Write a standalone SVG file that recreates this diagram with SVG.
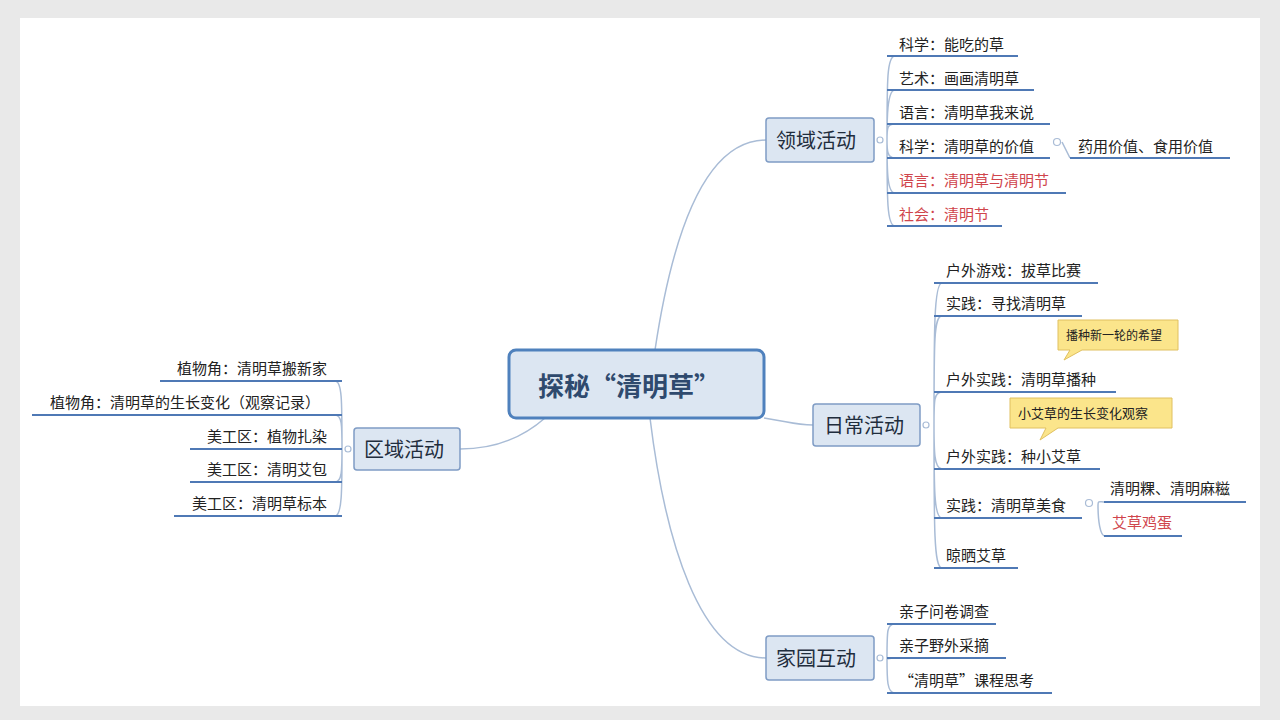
<svg xmlns="http://www.w3.org/2000/svg" width="1280" height="720" viewBox="0 0 1280 720">
<style>
text{font-family:"Noto Sans CJK SC","Noto Sans",sans-serif;fill:#222}
.leaf{font-size:15px}
.red{fill:#d0454c}
.ul{stroke:#4f79b5;stroke-width:2;fill:none}
.con{stroke:#a9bcd6;stroke-width:1.5;fill:none}
.topic{fill:#dce6f2;stroke:#7f9cc5;stroke-width:1.5}
.tt{font-size:20px;fill:#1f2d3d}
.call{fill:#fbe58b;stroke:#e0c060;stroke-width:1}
.dot{fill:#fff;stroke:#a9bcd6;stroke-width:1.2}
</style>
<rect x="0" y="0" width="1280" height="720" fill="#e9e9e9"/>
<rect x="20" y="18" width="1240" height="688" fill="#fff"/>
<g id="connectors">
<path class="con" d="M655 350 C670 250,700 140,766 140"/>
<path class="con" d="M650 418 C665 540,700 658,766 658"/>
<path class="con" d="M764 418 C790 422,795 425,813 425"/>
<path class="con" d="M545 418 C520 440,490 449,460 449"/>
<path class="con" d="M887 140 C887 80,887 56,895 56 M887 140 C887 120,887 90,895 90 M887 140 C887 128,887 124,895 124 M887 140 C887 150,887 158,895 158 M887 140 C887 170,887 193,895 193 M887 140 C887 200,887 226,895 226"/>
<path class="con" d="M934 425 C934 330,934 283,942 283 M934 425 C934 340,934 316,942 316 M934 425 C934 400,934 392,942 392 M934 425 C934 450,934 469,942 469 M934 425 C934 490,934 518,942 518 M934 425 C934 530,934 568,942 568"/>
<path class="con" d="M887 658 C887 630,887 624,895 624 M887 658 C887 660,887 658,895 658 M887 658 C887 680,887 693,895 693"/>
<path class="con" d="M342 449 C342 400,342 381,335 381 M342 449 C342 425,342 415,335 415 M342 449 C342 449,342 449,335 449 M342 449 C342 470,342 482,335 482 M342 449 C342 490,342 516,335 516"/>
<path class="con" d="M1062 142 L1070 158"/>
<path class="con" d="M1098 505 C1098 500,1100 502,1105 502 M1098 505 C1098 520,1100 536,1105 536"/>
</g>
<g id="center"><rect x="509" y="350" width="255" height="68" rx="7" fill="#dce6f2" stroke="#4f81bd" stroke-width="3"/><text x="538" y="396" font-size="26" font-weight="bold" style="fill:#2f4a6e">探秘“清明草”</text></g>
<g id="n-lingyu"><rect class="topic" x="766" y="118" width="108" height="44" rx="3"/><text class="tt" x="776" y="148">领域活动</text><circle class="dot" cx="880" cy="140" r="3"/></g>
<g id="n-richang"><rect class="topic" x="813" y="404" width="107" height="42" rx="3"/><text class="tt" x="824" y="433">日常活动</text><circle class="dot" cx="926" cy="425" r="3"/></g>
<g id="n-jiayuan"><rect class="topic" x="766" y="636" width="108" height="44" rx="3"/><text class="tt" x="776" y="666">家园互动</text><circle class="dot" cx="880" cy="658" r="3"/></g>
<g id="n-quyu"><rect class="topic" x="354" y="428" width="106" height="42" rx="3"/><text class="tt" x="364" y="457">区域活动</text><circle class="dot" cx="348" cy="449" r="3"/></g>
<g id="l1"><text class="leaf" x="899" y="50">科学：能吃的草</text><path class="ul" d="M887 56H1018"/></g>
<g id="l2"><text class="leaf" x="899" y="84">艺术：画画清明草</text><path class="ul" d="M887 90H1034"/></g>
<g id="l3"><text class="leaf" x="899" y="118">语言：清明草我来说</text><path class="ul" d="M887 124H1050"/></g>
<g id="l4"><text class="leaf" x="899" y="152">科学：清明草的价值</text><path class="ul" d="M887 158H1050"/><circle class="dot" cx="1057" cy="142" r="3.5"/></g>
<g id="l4a"><text class="leaf" x="1078" y="152">药用价值、食用价值</text><path class="ul" d="M1070 158H1230"/></g>
<g id="l5"><text class="leaf red" x="899" y="186">语言：清明草与清明节</text><path class="ul" d="M887 193H1066"/></g>
<g id="l6"><text class="leaf red" x="899" y="220">社会：清明节</text><path class="ul" d="M887 226H1002"/></g>
<g id="d1"><text class="leaf" x="946" y="276">户外游戏：拔草比赛</text><path class="ul" d="M934 283H1098"/></g>
<g id="d2"><text class="leaf" x="946" y="309">实践：寻找清明草</text><path class="ul" d="M934 316H1082"/></g>
<g id="d3"><text class="leaf" x="946" y="385">户外实践：清明草播种</text><path class="ul" d="M934 392H1116"/></g>
<g id="d4"><text class="leaf" x="946" y="462">户外实践：种小艾草</text><path class="ul" d="M934 469H1100"/></g>
<g id="d5"><text class="leaf" x="946" y="511">实践：清明草美食</text><path class="ul" d="M934 518H1082"/><circle class="dot" cx="1089" cy="503" r="3.5"/></g>
<g id="d5a"><text class="leaf" x="1110" y="494">清明粿、清明麻糍</text><path class="ul" d="M1104 502H1246"/></g>
<g id="d5b"><text class="leaf red" x="1112" y="528">艾草鸡蛋</text><path class="ul" d="M1104 536H1182"/></g>
<g id="d6"><text class="leaf" x="946" y="561">晾晒艾草</text><path class="ul" d="M934 568H1018"/></g>
<g id="c1"><path class="call" d="M1058 320H1178V350H1082L1064 360L1070 350H1058Z"/><text x="1066" y="340" font-size="12">播种新一轮的希望</text></g>
<g id="c2"><path class="call" d="M1010 398H1172V428H1058L1040 440L1046 428H1010Z"/><text x="1018" y="418" font-size="13">小艾草的生长变化观察</text></g>
<g id="f1"><text class="leaf" x="899" y="617">亲子问卷调查</text><path class="ul" d="M887 624H996"/></g>
<g id="f2"><text class="leaf" x="899" y="651">亲子野外采摘</text><path class="ul" d="M887 658H1006"/></g>
<g id="f3"><text class="leaf" x="899" y="686">“清明草”课程思考</text><path class="ul" d="M887 693H1052"/></g>
<g id="q1"><text class="leaf" x="327" y="374" text-anchor="end">植物角：清明草搬新家</text><path class="ul" d="M160 381H342"/></g>
<g id="q2"><text class="leaf" x="320" y="408" text-anchor="end">植物角：清明草的生长变化（观察记录）</text><path class="ul" d="M32 415H342"/></g>
<g id="q3"><text class="leaf" x="327" y="442" text-anchor="end">美工区：植物扎染</text><path class="ul" d="M190 449H342"/></g>
<g id="q4"><text class="leaf" x="327" y="475" text-anchor="end">美工区：清明艾包</text><path class="ul" d="M190 482H342"/></g>
<g id="q5"><text class="leaf" x="327" y="509" text-anchor="end">美工区：清明草标本</text><path class="ul" d="M174 516H342"/></g>
</svg>
